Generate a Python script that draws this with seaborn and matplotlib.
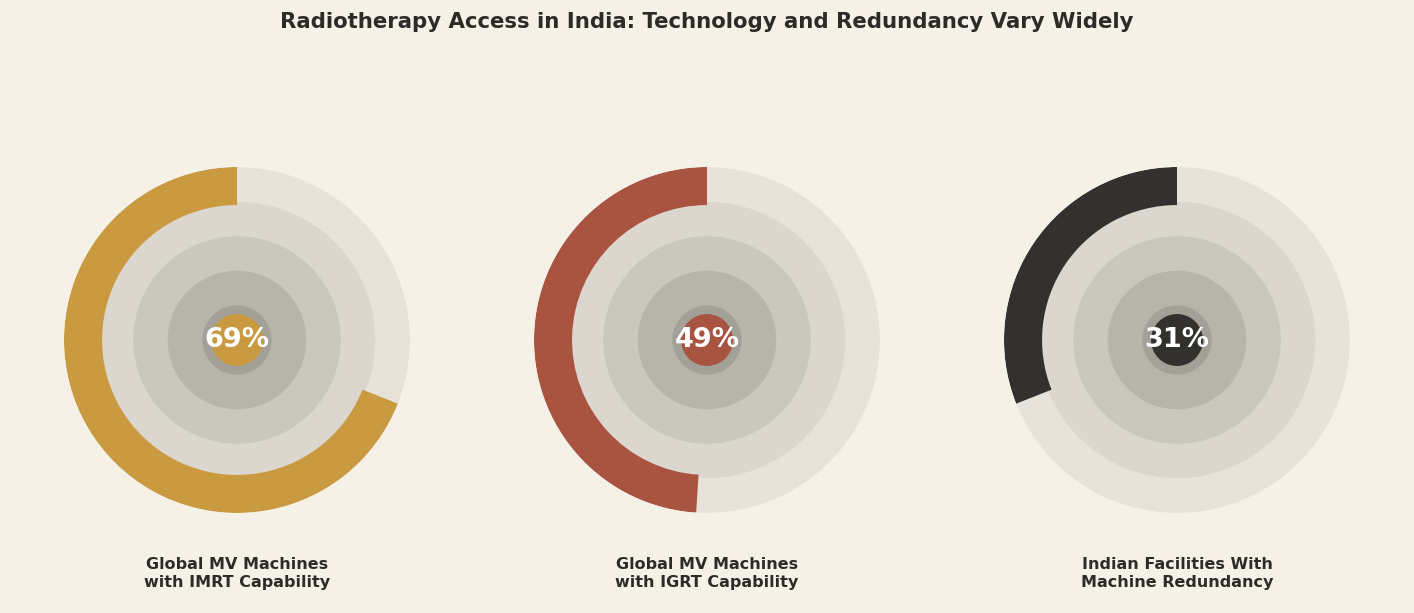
import numpy as np
import matplotlib
matplotlib.use("Agg")
import matplotlib.pyplot as plt
import seaborn as sns

# gauge values (percent) and labels
values = [69, 49, 31]
labels = ["Global MV Machines\nwith IMRT Capability",
          "Global MV Machines\nwith IGRT Capability",
          "Indian Facilities With\nMachine Redundancy"]
colors = ["#c99a3f", "#a95341", "#33312d"]

# decorative concentric rings (radius, colour), outer to inner
ring_radii = [4.0, 3.0, 2.0, 1.0]
ring_colors = ["#dbd7cf", "#cac7bf", "#b7b4ac", "#a3a097"]

bg = "#f5f1e7"
text_col = "#2e2b26"

sns.set_theme(style="white", rc={"figure.facecolor": bg, "axes.facecolor": bg})
plt.rcParams['font.family'] = ['DejaVu Sans']

fig = plt.figure(figsize=(14.14, 6.13), dpi=100)

centers_x = [237, 707, 1177]
R = 173
for i, (val, lab, col) in enumerate(zip(values, labels, colors)):
    left = (centers_x[i] - R) / 1414
    bottom = (613 - 340 - R) / 613
    ax = fig.add_axes([left, bottom, 2 * R / 1414, 2 * R / 613], projection="polar")
    ax.set_theta_zero_location("N")
    ax.set_theta_direction(1)
    ax.set_ylim(0, 5)
    ax.set_facecolor("none")

    # background track
    ax.bar(0, 1.0, width=2 * np.pi, bottom=4.0, color="#e7e3db", linewidth=0, align="edge")
    # second disc
    ax.bar(0, ring_radii[0], width=2 * np.pi, bottom=0, color=ring_colors[0], linewidth=0, align="edge")
    # value arc
    frac = val / 100
    ax.bar(0, 1.1, width=2 * np.pi * frac, bottom=3.9, color=col, linewidth=0, align="edge")
    # inner discs
    for r, c in zip(ring_radii[1:], ring_colors[1:]):
        ax.bar(0, r, width=2 * np.pi, bottom=0, color=c, linewidth=0, align="edge")
    ax.bar(0, 0.75, width=2 * np.pi, bottom=0, color=col, linewidth=0, align="edge")

    ax.text(0, 0, f"{val}%", ha="center", va="center", fontsize=19.5,
            fontweight="bold", color="white")
    ax.set_xticks([])
    ax.set_yticks([])
    ax.spines["polar"].set_visible(False)
    ax.grid(False)

    fig.text(centers_x[i] / 1414, 1 - 573.5 / 613, lab, ha="center", va="center",
             fontsize=11.5, fontweight="bold", color=text_col, linespacing=1.3)

fig.text(0.5, 1 - 22.5 / 613, "Radiotherapy Access in India: Technology and Redundancy Vary Widely",
         ha="center", va="center", fontsize=15.3, fontweight="bold", color=text_col)

fig.savefig("out.png", dpi=100, facecolor=bg)
